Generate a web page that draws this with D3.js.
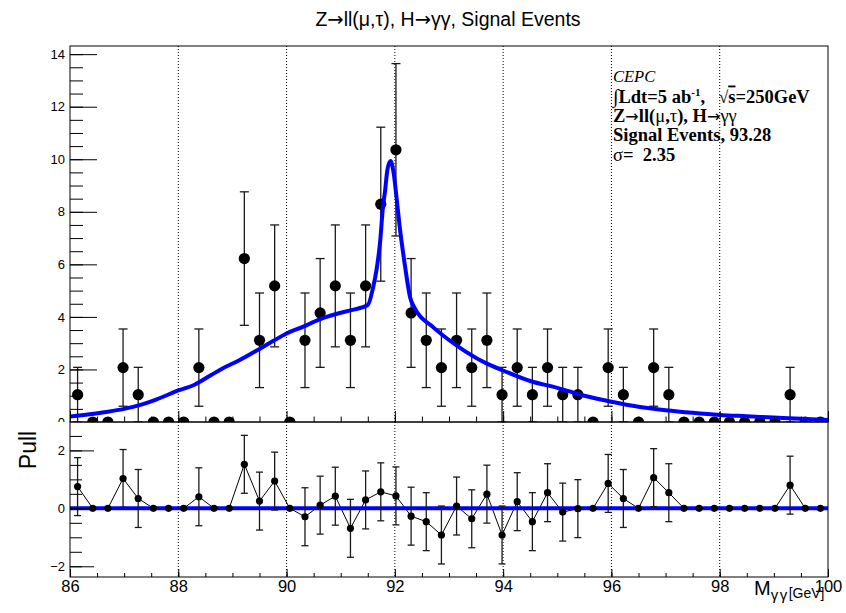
<!DOCTYPE html>
<html>
<head>
<meta charset="utf-8">
<script src="https://cdn.jsdelivr.net/npm/d3@7"></script>
<style>
  body { margin: 0; background: #fff; }
  svg { display: block; }
  text { font-family: "Liberation Sans", Arial, Helvetica, sans-serif; fill: #000; }
  .serif { font-family: "Liberation Serif", "Times New Roman", serif; }
  .arrow { font-family: "DejaVu Sans", sans-serif; font-weight: normal; }
</style>
</head>
<body>
<div id="chart"></div>
<script>
// Diphoton invariant mass, 50 bins of 0.28 GeV between 86 and 100 GeV
const binCenters = [
  86.14, 86.42, 86.70, 86.98, 87.26, 87.54, 87.82, 88.10, 88.38, 88.66,
  88.94, 89.22, 89.50, 89.78, 90.06, 90.34, 90.62, 90.90, 91.18, 91.46,
  91.74, 92.02, 92.30, 92.58, 92.86, 93.14, 93.42, 93.70, 93.98, 94.26,
  94.54, 94.82, 95.10, 95.38, 95.66, 95.94, 96.22, 96.50, 96.78, 97.06,
  97.34, 97.62, 97.90, 98.18, 98.46, 98.74, 99.02, 99.30, 99.58, 99.86
];

// Weighted signal yield per bin
const yields = [
  1.04, 0, 0, 2.07, 1.04, 0, 0, 0, 2.07, 0,
  0, 6.22, 3.11, 5.18, 0, 3.11, 4.15, 5.18, 3.11, 5.18,
  8.29, 10.36, 4.15, 3.11, 2.07, 3.11, 2.07, 3.11, 1.04, 2.07,
  1.04, 2.07, 1.04, 1.04, 0, 2.07, 1.04, 0, 2.07, 1.04,
  0, 0, 0, 0, 0, 0, 0, 1.04, 0, 0
];

// Statistical uncertainty per bin
const yieldErrors = [
  1.04, 0, 0, 1.47, 1.04, 0, 0, 0, 1.47, 0,
  0, 2.54, 1.80, 2.32, 0, 1.80, 2.07, 2.32, 1.80, 2.32,
  2.93, 3.28, 2.07, 1.80, 1.47, 1.80, 1.47, 1.80, 1.04, 1.47,
  1.04, 1.47, 1.04, 1.04, 0, 1.47, 1.04, 0, 1.47, 1.04,
  0, 0, 0, 0, 0, 0, 0, 1.04, 0, 0
];

// Fitted signal shape
const fitMass = [
  86.0, 86.3, 86.7, 87.0, 87.3, 87.6, 88.0, 88.3, 88.6, 88.8,
  89.1, 89.5, 89.75, 90.0, 90.3, 90.6, 90.9, 91.2, 91.5, 91.6,
  91.66, 91.73, 91.78, 91.82, 91.86, 91.92, 91.98, 92.03, 92.09, 92.19,
  92.28, 92.37, 92.7, 93.0, 93.3, 93.7, 94.0, 94.5, 95.0, 95.5,
  96.0, 96.5, 97.0, 97.5, 98.0, 98.5, 99.0, 99.5, 100.0
];
const fitValue = [
  0.21, 0.28, 0.39, 0.50, 0.65, 0.86, 1.20, 1.42, 1.78, 2.02,
  2.32, 2.78, 3.08, 3.37, 3.62, 3.90, 4.10, 4.26, 4.45, 5.14,
  5.77, 6.91, 8.18, 8.81, 9.57, 9.93, 9.44, 8.56, 7.42, 5.90,
  4.76, 4.32, 3.62, 3.12, 2.69, 2.22, 1.96, 1.56, 1.30, 1.00,
  0.77, 0.58, 0.45, 0.35, 0.27, 0.22, 0.17, 0.12, 0.08
];

// Pull of each bin with respect to the fit
const pulls = [
  0.75, 0, 0, 1.03, 0.34, 0, 0, 0, 0.40, 0,
  0, 1.52, 0.25, 0.94, 0, -0.29, 0.11, 0.42, -0.69, 0.29,
  0.57, 0.43, -0.27, -0.46, -0.92, 0.08, -0.36, 0.49, -0.92, 0.23,
  -0.46, 0.54, -0.13, -0.01, 0, 0.86, 0.34, 0, 1.06, 0.54,
  0, 0, 0, 0, 0, 0, 0, 0.80, 0, 0
];
const pullErrors = [
  1, 0, 0, 1, 1, 0, 0, 0, 1, 0,
  0, 1, 1, 1, 0, 1, 1, 1, 1, 1,
  1, 1, 1, 1, 1, 1, 1, 1, 1, 1,
  1, 1, 1, 1, 0, 1, 1, 0, 1, 1,
  0, 0, 0, 0, 0, 0, 0, 1, 0, 0
];
const pullRefMass = [86, 100];
const pullRefValue = [0, 0];

// Axis ticks
const massTicks = [86, 88, 90, 92, 94, 96, 98, 100];
const gridTicks = [88, 90, 92, 94, 96, 98];
const yieldTicks = [0, 2, 4, 6, 8, 10, 12, 14];
const pullTicks = [-2, 0, 2];

const W = 846, H = 613;
const L = 70, R = 828, T = 46, MID = 422, B = 577;

const svg = d3.select("#chart").append("svg")
  .attr("width", W).attr("height", H);

const x = d3.scaleLinear().domain([86, 100]).range([L, R]);
const yTop = d3.scaleLinear().domain([0, 14.31]).range([MID, T]);
const yPull = d3.scaleLinear().domain([-2.37, 2.98]).range([B, MID]);

const defs = svg.append("defs");
defs.append("clipPath").attr("id", "clipUpper")
  .append("rect").attr("x", 0).attr("y", 0).attr("width", W).attr("height", MID);
defs.append("clipPath").attr("id", "clipLower")
  .append("rect").attr("x", 0).attr("y", MID).attr("width", W).attr("height", H - MID);

const upper = svg.append("g").attr("clip-path", "url(#clipUpper)");
const lower = svg.append("g").attr("clip-path", "url(#clipLower)");

// Dotted vertical grid
[[upper, T, MID], [lower, MID, B]].forEach(([g, y0, y1]) => {
  g.append("g").selectAll("line").data(gridTicks).join("line")
    .attr("x1", d => x(d)).attr("x2", d => x(d))
    .attr("y1", y0).attr("y2", y1)
    .attr("stroke", "#000").attr("stroke-width", 1)
    .attr("stroke-dasharray", "1,2");
});

// ---- Upper pad: events with error bars and fit ----
const filled = binCenters.map((m, i) => ({ m, v: yields[i], e: yieldErrors[i] }));

const eb = upper.append("g").attr("stroke", "#1a1a1a").attr("stroke-width", 1.3);
filled.filter(d => d.e > 0).forEach(d => {
  const lo = Math.max(0, d.v - d.e), hi = d.v + d.e;
  eb.append("line").attr("x1", x(d.m)).attr("x2", x(d.m))
    .attr("y1", yTop(lo)).attr("y2", yTop(hi));
  eb.append("line").attr("x1", x(d.m) - 4.5).attr("x2", x(d.m) + 4.5)
    .attr("y1", yTop(hi)).attr("y2", yTop(hi));
  eb.append("line").attr("x1", x(d.m) - 4.5).attr("x2", x(d.m) + 4.5)
    .attr("y1", yTop(lo)).attr("y2", yTop(lo));
});

upper.append("g").selectAll("circle").data(filled).join("circle")
  .attr("cx", d => x(d.m)).attr("cy", d => yTop(d.v))
  .attr("r", 5.6).attr("fill", "#000");

const fitLine = d3.line()
  .x((d, i) => x(fitMass[i]))
  .y(d => yTop(d))
  .curve(d3.curveMonotoneX);
upper.append("path").datum(fitValue)
  .attr("d", fitLine)
  .attr("fill", "none").attr("stroke", "#0000ff")
  .attr("stroke-width", 4).attr("stroke-linejoin", "round");

// ---- Lower pad: pulls ----
const pullPts = binCenters.map((m, i) => ({ m, v: pulls[i], e: pullErrors[i] }));

lower.append("path").datum(pullPts)
  .attr("d", d3.line().x(d => x(d.m)).y(d => yPull(d.v)))
  .attr("fill", "none").attr("stroke", "#000").attr("stroke-width", 1);

lower.append("path").datum(pullRefValue)
  .attr("d", d3.line().x((d, i) => x(pullRefMass[i])).y(d => yPull(d)))
  .attr("fill", "none").attr("stroke", "#0000ff").attr("stroke-width", 4);

const peb = lower.append("g").attr("stroke", "#1a1a1a").attr("stroke-width", 1.3);
pullPts.filter(d => d.e > 0).forEach(d => {
  const lo = d.v - d.e, hi = d.v + d.e;
  peb.append("line").attr("x1", x(d.m)).attr("x2", x(d.m))
    .attr("y1", yPull(lo)).attr("y2", yPull(hi));
  [lo, hi].forEach(v => peb.append("line")
    .attr("x1", x(d.m) - 3.5).attr("x2", x(d.m) + 3.5)
    .attr("y1", yPull(v)).attr("y2", yPull(v)));
});

lower.append("g").selectAll("circle").data(pullPts).join("circle")
  .attr("cx", d => x(d.m)).attr("cy", d => yPull(d.v))
  .attr("r", 3.6).attr("fill", "#000");

// ---- Frames ----
svg.append("rect").attr("x", L).attr("y", T).attr("width", R - L).attr("height", MID - T)
  .attr("fill", "none").attr("stroke", "#000").attr("stroke-width", 1);
svg.append("rect").attr("x", L).attr("y", MID).attr("width", R - L).attr("height", B - MID)
  .attr("fill", "none").attr("stroke", "#000").attr("stroke-width", 1);

// ---- Axes ----
function styleAxis(g) {
  g.select(".domain").remove();
  g.selectAll(".tick line").attr("stroke", "#000").attr("stroke-width", 1);
}
const halfSteps = (a, b) => d3.range(a, b + 1e-9, 0.5);

// upper pad y axis
upper.append("g").attr("transform", `translate(${L},0)`)
  .call(d3.axisLeft(yTop).tickValues(halfSteps(0, 14)).tickSize(-13).tickFormat(""))
  .call(styleAxis);
upper.append("g").attr("transform", `translate(${L},0)`)
  .call(d3.axisLeft(yTop).tickValues(yieldTicks).tickSize(-27).tickPadding(5).tickFormat(d3.format("d")))
  .call(styleAxis)
  .call(g => g.selectAll("text").attr("font-size", 13).attr("fill", "#222"));

// upper pad x ticks (no labels)
upper.append("g").attr("transform", `translate(0,${MID})`)
  .call(d3.axisBottom(x).tickValues(halfSteps(86, 100)).tickSize(-5.5).tickFormat(""))
  .call(styleAxis);
upper.append("g").attr("transform", `translate(0,${MID})`)
  .call(d3.axisBottom(x).tickValues(massTicks).tickSize(-11).tickFormat(""))
  .call(styleAxis);

// lower pad y axis
lower.append("g").attr("transform", `translate(${L},0)`)
  .call(d3.axisLeft(yPull).tickValues(halfSteps(-2, 2.5)).tickSize(-12).tickFormat(""))
  .call(styleAxis);
svg.append("g").attr("transform", `translate(${L},0)`)
  .call(d3.axisLeft(yPull).tickValues(pullTicks).tickSize(-24).tickPadding(5)
    .tickFormat(d => d < 0 ? "\u2212" + Math.abs(d) : String(d)))
  .call(styleAxis)
  .call(g => g.selectAll("text").attr("font-size", 13).attr("fill", "#222"));

// lower pad x axis
svg.append("g").attr("transform", `translate(0,${B})`)
  .call(d3.axisBottom(x).tickValues(halfSteps(86, 100)).tickSize(-4).tickFormat(""))
  .call(styleAxis);
svg.append("g").attr("transform", `translate(0,${B})`)
  .call(d3.axisBottom(x).tickValues(massTicks).tickSize(-8).tickPadding(3).tickFormat(d3.format("d")))
  .call(styleAxis)
  .call(g => g.selectAll("text").attr("font-size", 16.5).attr("fill", "#222")
    .attr("y", 3).attr("dy", "0.71em"));

// ---- Titles ----
const title = svg.append("text").attr("x", 448).attr("y", 26).attr("text-anchor", "middle")
  .attr("font-size", 19.5);
title.append("tspan").text("Z");
title.append("tspan").attr("class", "arrow").text("\u2192");
title.append("tspan").text("ll(\u03bc,\u03c4), H");
title.append("tspan").attr("class", "arrow").text("\u2192");
title.append("tspan").text("\u03b3\u03b3, Signal Events");

svg.append("text").attr("transform", "translate(36,450) rotate(-90)")
  .attr("text-anchor", "middle").attr("font-size", 23).text("Pull");

const xt = svg.append("text").attr("x", 754).attr("y", 595);
xt.append("tspan").attr("font-size", 20).text("M");
xt.append("tspan").attr("font-size", 15).attr("dy", 5).attr("letter-spacing", 1.5).text("\u03b3\u03b3");
xt.append("tspan").attr("font-size", 14).attr("dy", -2).text("[GeV]");

// ---- Annotation block ----
const lx = 613;
const ann = svg.append("g");
ann.append("text").attr("class", "serif").attr("x", lx).attr("y", 82)
  .attr("font-size", 16.5).attr("font-style", "italic").text("CEPC");

const l2 = ann.append("text").attr("class", "serif").attr("x", lx).attr("y", 102.5)
  .attr("font-size", 18.5).attr("font-weight", "bold").style("white-space", "pre");
l2.append("tspan").attr("font-weight", "normal").attr("font-size", 20).text("\u222b");
l2.append("tspan").text("Ldt=5 ab");
l2.append("tspan").attr("font-size", 11).attr("dy", -7).text("-1");
l2.append("tspan").attr("dy", 7).text(",   ");
l2.append("tspan").attr("font-weight", "normal").attr("font-size", 17).text("\u221a");
l2.append("tspan").style("text-decoration", "overline").text("s");
l2.append("tspan").text("=250GeV");

const l3 = ann.append("text").attr("class", "serif").attr("x", lx).attr("y", 121.5)
  .attr("font-size", 18.5).attr("font-weight", "bold");
l3.append("tspan").text("Z");
l3.append("tspan").attr("class", "arrow").attr("font-size", 16).text("\u2192");
l3.append("tspan").text("ll(");
l3.append("tspan").attr("font-weight", "normal").text("\u03bc");
l3.append("tspan").text(",");
l3.append("tspan").attr("font-weight", "normal").text("\u03c4");
l3.append("tspan").text("), H");
l3.append("tspan").attr("class", "arrow").attr("font-size", 16).text("\u2192");
l3.append("tspan").attr("font-weight", "normal").text("\u03b3\u03b3");

ann.append("text").attr("class", "serif").attr("x", lx).attr("y", 141)
  .attr("font-size", 18.5).attr("font-weight", "bold").text("Signal Events, 93.28");

const l5 = ann.append("text").attr("class", "serif").attr("x", lx).attr("y", 160.5)
  .attr("font-size", 18.5).attr("font-weight", "bold").style("white-space", "pre");
l5.append("tspan").attr("font-weight", "normal").text("\u03c3");
l5.append("tspan").text("=  2.35");
</script>
</body>
</html>
